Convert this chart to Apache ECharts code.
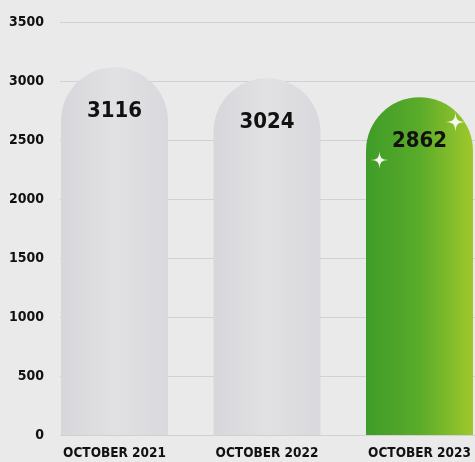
<!DOCTYPE html>
<html><head><meta charset="utf-8">
<script src="https://cdn.jsdelivr.net/npm/echarts@6/dist/echarts.min.js"></script>
<style>html,body{margin:0;padding:0;background:#ebeaeb;}#c{width:475px;height:462px;}</style>
</head><body><div id="c"></div>
<script>
const categories = ['OCTOBER 2021', 'OCTOBER 2022', 'OCTOBER 2023'];
const values = [3116, 3024, 2862];
const yTicks = [0, 500, 1000, 1500, 2000, 2500, 3000, 3500];

const FONT = '"DejaVu Sans Condensed","DejaVu Sans",sans-serif';
const grey = {type:'linear',x:0,y:0,x2:1,y2:0,colorStops:[{offset:0,color:'#d7d6da'},{offset:0.5,color:'#e1e0e3'},{offset:1,color:'#d9d8dc'}]};
const green = {type:'linear',x:0,y:0,x2:1,y2:0,colorStops:[{offset:0,color:'#3f9c28'},{offset:0.5,color:'#5aab2a'},{offset:1,color:'#9fc82c'}]};
const barColors = [grey, grey, green];
const star = 'path://M50,0 C53,40 60,47 100,50 C60,53 53,60 50,100 C47,60 40,53 0,50 C40,47 47,40 50,0 Z';

const chart = echarts.init(document.getElementById('c'));
chart.setOption({
  backgroundColor: '#ebeaeb',
  animation: false,
  grid: [
    {left: 60, width: 415, top: 22, bottom: 27, outerBoundsMode: 'none', containLabel: false},
    {left: 38.25, width: 457.5, top: 22, bottom: 27, outerBoundsMode: 'none', containLabel: false}
  ],
  xAxis: [
    {type:'category', gridIndex:0, data: categories, show:false},
    {type:'category', gridIndex:1, data: categories,
     axisLine:{show:false}, axisTick:{show:false},
     axisLabel:{interval:0, margin:11, color:'#111', fontFamily:FONT, fontWeight:'bold', fontSize:13.5}}
  ],
  yAxis: [
    {type:'value', gridIndex:0, min:0, max:3500, interval:500,
     axisLine:{show:false}, axisTick:{show:false},
     axisLabel:{margin:16, color:'#111', fontFamily:FONT, fontWeight:'bold', fontSize:14,
       formatter: v => yTicks.includes(v) ? String(v) : ''},
     splitLine:{lineStyle:{color:'#d2d0d2', width:1}}},
    {type:'value', gridIndex:1, min:0, max:3500, interval:500, show:false, splitLine:{show:false}}
  ],
  series: [{
    type:'bar', xAxisIndex:1, yAxisIndex:1, barWidth:107,
    data: values.map((v,i)=>({value:v, itemStyle:{color:barColors[i]}})),
    itemStyle:{borderRadius:[54,54,0,0]},
    label:{show:true, position:'insideTop', distance:33, color:'#111',
      fontFamily:FONT, fontWeight:'bold', fontSize:22},
    markPoint:{
      silent:true, symbol:star, itemStyle:{color:'#f4f8ee'}, label:{show:false},
      data:[
        {coord:['OCTOBER 2023', 2330], symbolSize:18, symbolOffset:[-40,0]},
        {coord:['OCTOBER 2023', 2653], symbolSize:20, symbolOffset:[36,0]}
      ]
    }
  }]
});
</script></body></html>
